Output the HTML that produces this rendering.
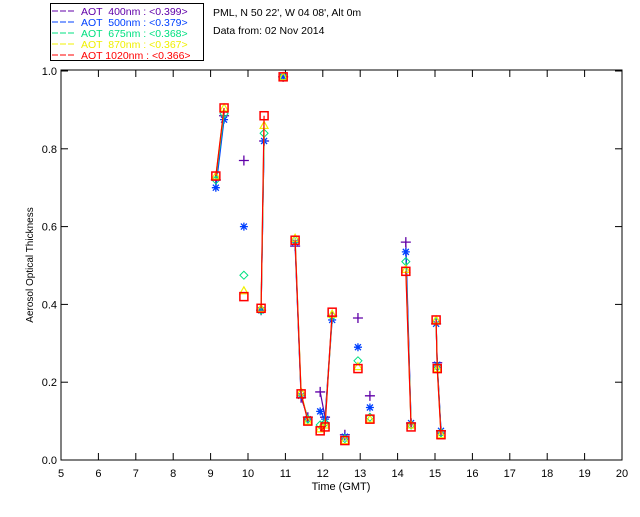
<!DOCTYPE html>
<html><head><meta charset="utf-8"><style>
body{margin:0;background:#fff;width:640px;height:512px;overflow:hidden}
svg{font-family:"Liberation Sans",sans-serif}
.lg{white-space:pre}
</style></head><body>
<svg id="chart" width="640" height="512" xmlns="http://www.w3.org/2000/svg"></svg>
<script>
const times=[9.14,9.36,9.89,10.35,10.43,10.94,11.26,11.42,11.60,11.93,12.06,12.25,12.59,12.94,13.26,14.22,14.36,15.03,15.06,15.16];
const segments=[0,0,1,2,2,3,4,4,4,5,5,5,6,7,8,9,9,10,10,10];
const aot400=[0.72,0.885,0.77,0.385,0.82,0.985,0.55,0.16,0.11,0.175,0.11,0.37,0.065,0.365,0.165,0.56,0.095,0.35,0.25,0.075];
const aot500=[0.70,0.875,0.60,0.385,0.82,0.985,0.56,0.165,0.105,0.125,0.105,0.36,0.06,0.29,0.135,0.535,0.095,0.35,0.245,0.075];
const aot675=[0.72,0.89,0.475,0.385,0.84,0.985,0.565,0.17,0.105,0.09,0.095,0.37,0.055,0.255,0.11,0.51,0.09,0.355,0.24,0.07];
const aot870=[0.73,0.905,0.435,0.39,0.86,0.985,0.57,0.175,0.10,0.08,0.09,0.375,0.05,0.24,0.105,0.49,0.09,0.36,0.235,0.065];
const aot1020=[0.73,0.905,0.42,0.39,0.885,0.985,0.565,0.17,0.10,0.075,0.085,0.38,0.05,0.235,0.105,0.485,0.085,0.36,0.235,0.065];
const xTicks=[5,6,7,8,9,10,11,12,13,14,15,16,17,18,19,20];
const yTicks=[0,0.2,0.4,0.6,0.8,1.0];
const yTickLabels=["0.0","0.2","0.4","0.6","0.8","1.0"];
const legendLabels=["AOT  400nm : <0.399>","AOT  500nm : <0.379>","AOT  675nm : <0.368>","AOT  870nm : <0.367>","AOT 1020nm : <0.366>"];

const svg=document.getElementById('chart');
const NS='http://www.w3.org/2000/svg';
const L=61,R=622,T=71,B=460;
const xs=t=>L+(t-5)/15*(R-L);
const ys=v=>B-v*(B-T);
function mk(tag,attrs,parent){const e=document.createElementNS(NS,tag);for(const k in attrs)e.setAttribute(k,attrs[k]);(parent||svg).appendChild(e);return e;}

const frame=mk('rect',{x:L,y:T-1,width:R-L,height:B-T+1,fill:'none',stroke:'#000','stroke-width':1});


xTicks.forEach(t=>{
  const x=xs(t);
  mk('line',{x1:x,y1:B,x2:x,y2:B-7,stroke:'#000'});
  mk('line',{x1:x,y1:T-1,x2:x,y2:T+6,stroke:'#000'});
  const tx=mk('text',{x:x,y:B+17,'font-size':11,'text-anchor':'middle'});tx.textContent=t;
  
  
});
yTicks.forEach((v,i)=>{
  const y=ys(v);
  mk('line',{x1:L,y1:y,x2:L+7,y2:y,stroke:'#000'});
  mk('line',{x1:R,y1:y,x2:R-7,y2:y,stroke:'#000'});
  const tx=mk('text',{x:L-4,y:y+4,'font-size':11,'text-anchor':'end'});tx.textContent=yTickLabels[i];
  
  
});
const xt=mk('text',{x:341,y:490,'font-size':11,'text-anchor':'middle'});xt.textContent='Time (GMT)';


const yt=mk('text',{x:33,y:265,'font-size':10,'text-anchor':'middle',transform:'rotate(-90 33 265)'});yt.textContent='Aerosol Optical Thickness';



const series=[aot400,aot500,aot675,aot870,aot1020];
const colors=['#6000a8','#0040ff','#00e080','#f0f000','#ff0000'];
const names=['series-400nm','series-500nm','series-675nm','series-870nm','series-1020nm'];
series.forEach((vals,si)=>{
  const g=mk('g',{});
  
  
  for(let i=1;i<vals.length;i++){
    if(segments[i]!==segments[i-1])continue;
    mk('line',{x1:xs(times[i-1]),y1:ys(vals[i-1]),x2:xs(times[i]),y2:ys(vals[i]),stroke:colors[si],'stroke-width':1.2},g);
  }
  vals.forEach((v,i)=>{
    const x=xs(times[i]),y=ys(v),c=colors[si];
    let m;
    if(si===0){m=mk('path',{d:`M${x-5},${y}H${x+5}M${x},${y-5}V${y+5}`,stroke:c,fill:'none','stroke-width':1.3},g);}
    else if(si===1){m=mk('path',{d:`M${x-4},${y}H${x+4}M${x},${y-4}V${y+4}M${x-3},${y-3}L${x+3},${y+3}M${x-3},${y+3}L${x+3},${y-3}`,stroke:c,fill:'none','stroke-width':1.3},g);}
    else if(si===2){m=mk('path',{d:`M${x},${y-4}L${x+4},${y}L${x},${y+4}L${x-4},${y}Z`,stroke:c,fill:'none','stroke-width':1},g);}
    else if(si===3){m=mk('path',{d:`M${x},${y-4}L${x+4},${y+3}L${x-4},${y+3}Z`,stroke:c,fill:'none','stroke-width':1.2},g);}
    else {m=mk('rect',{x:x-4,y:y-4,width:8,height:8,stroke:c,fill:'none','stroke-width':1.5},g);}
    
    
  });
});

const lg=mk('g',{});


mk('rect',{x:50.5,y:3.5,width:153,height:57,fill:'#fff',stroke:'#000'},lg);
legendLabels.forEach((lab,i)=>{
  const y=11+i*11;
  mk('line',{x1:52,y1:y,x2:74,y2:y,stroke:colors[i],'stroke-dasharray':'6,2'},lg);
  const t=mk('text',{x:81,y:y+4,'font-size':10.5,fill:colors[i],'class':'lg'},lg);
  t.textContent=lab;
  
  
});
const h1=mk('text',{x:213,y:16,'font-size':10.5});h1.textContent="PML, N 50 22', W 04 08', Alt 0m";


const h2=mk('text',{x:213,y:34,'font-size':10.5});h2.textContent="Data from: 02 Nov 2014";


</script>
</body></html>
